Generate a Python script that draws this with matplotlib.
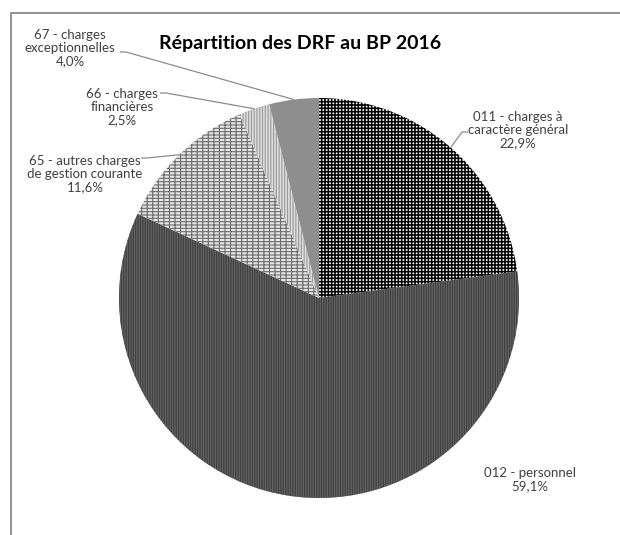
import matplotlib
matplotlib.use("Agg")
import matplotlib.pyplot as plt
import numpy as np

# données
categories = [
    "011 - charges à\ncaractère général",
    "012 - personnel",
    "65 - autres charges\nde gestion courante",
    "66 - charges\nfinancières",
    "67 - charges\nexceptionnelles",
]
values = [22.9, 59.1, 11.6, 2.5, 4.0]
pct_labels = ["22,9%", "59,1%", "11,6%", "2,5%", "4,0%"]

# styles (motifs) des secteurs
face_colors = ["#ffffff", "#404040", "#e4e4e4", "#dcdcdc", "#8e8e8e"]
hatches = ["+++++", "|||||||", "-----|||", "||||||", None]
hatch_colors = ["#000000", "#666666", "#6e6e6e", "#9a9a9a", "#8e8e8e"]

W, H = 620, 535
CX, CY, R = 319, 298, 200


def px(x, y):
    """Pixel (origine en haut à gauche) -> coordonnées des axes."""
    return x, H - y


# position des étiquettes (centre du bloc) et trait de rappel (début, coude)
label_pos = [(518, 130), (530, 480), (85, 174), (122, 107), (70, 48)]
leader_start = [(468, 132), None, (141, 158), (160, 93), (120, 52)]
leader_elbow = [(462, 132), None, (147, 158), (166, 93), (126, 52)]

plt.rcParams["font.family"] = ["Lato", "DejaVu Sans"]
plt.rcParams["hatch.linewidth"] = 1.0

fig = plt.figure(figsize=(W / 100, H / 100), dpi=100)
ax = fig.add_axes([0, 0, 1, 1])

wedges, _ = ax.pie(
    values,
    startangle=90,
    counterclock=False,
    center=px(CX, CY),
    radius=R,
    colors=face_colors,
    wedgeprops=dict(linewidth=0),
)
for w, h, hc in zip(wedges, hatches, hatch_colors):
    w.set_edgecolor(hc)
    w.set_linewidth(0)
    if h:
        w.set_hatch(h)
        if hasattr(w, "set_hatch_linewidth"):
            w.set_hatch_linewidth(1.1 if h.startswith("+") else 0.8)

ax.set_xlim(0, W)
ax.set_ylim(0, H)
ax.set_aspect("equal")
ax.axis("off")

for i, w in enumerate(wedges):
    tx, ty = label_pos[i]
    ax.text(*px(tx, ty), f"{categories[i]}\n{pct_labels[i]}", ha="center",
            va="center", fontsize=9.5, color="#404040", linespacing=1.12)
    if leader_start[i] is None:
        continue
    ang = np.deg2rad((w.theta1 + w.theta2) / 2)
    ax_, ay_ = CX + R * np.cos(ang), (H - CY) + R * np.sin(ang)
    sx, sy = px(*leader_start[i])
    ex, ey = px(*leader_elbow[i])
    ax.plot([sx, ex, ax_], [sy, ey, ay_], color="#8c8c8c", lw=0.9,
            solid_capstyle="butt")

ax.text(*px(300, 43), "Répartition des DRF au BP 2016", ha="center",
        va="center", fontsize=14, fontweight="bold", color="black")

# cadre (bords gauche et haut seulement visibles)
ax.plot(*zip(px(11, H), px(11, 13), px(W, 13)), color="#8a8a8a", lw=1.3,
        clip_on=False)

fig.savefig("out.png", dpi=100)
